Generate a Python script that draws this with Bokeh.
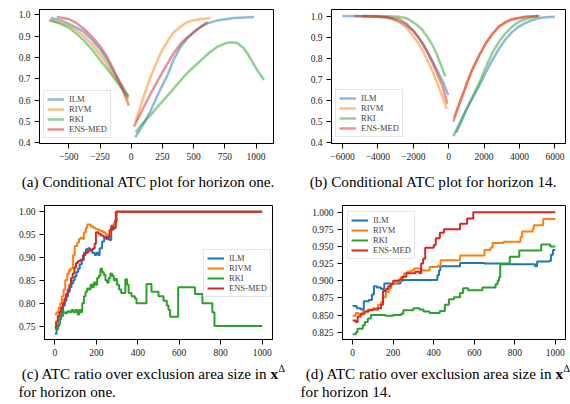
from bokeh.plotting import figure
from bokeh.layouts import column, row
from bokeh.models import Label, Legend, LegendItem, FixedTicker, Range1d
from bokeh.embed import file_html
from bokeh.resources import INLINE

# ---------------- data ----------------
series_names = ["ILM", "RIVM", "RKI", "ENS-MED"]
series_colors = ["#1f77b4", "#ff7f0e", "#2ca02c", "#d62728"]

# (a) conditional ATC, horizon one: negative and positive branches
a_ilm_neg_x = [-645, -560, -500, -440, -380, -310, -246, -190, -139, -80, -24]
a_ilm_neg_y = [0.985, 0.973, 0.958, 0.940, 0.920, 0.880, 0.835, 0.785, 0.730, 0.675, 0.620]
a_rivm_neg_x = [-650, -575, -500, -440, -380, -310, -246, -190, -139, -80, -22]
a_rivm_neg_y = [0.975, 0.963, 0.950, 0.927, 0.900, 0.858, 0.810, 0.765, 0.715, 0.660, 0.605]
a_rki_neg_x = [-660, -575, -500, -440, -380, -310, -246, -190, -139, -80, -24]
a_rki_neg_y = [0.975, 0.960, 0.940, 0.912, 0.880, 0.835, 0.785, 0.745, 0.705, 0.660, 0.615]
a_ens_neg_x = [-597, -500, -440, -380, -310, -246, -190, -139, -80, -19]
a_ens_neg_y = [0.990, 0.980, 0.962, 0.935, 0.895, 0.850, 0.800, 0.740, 0.665, 0.575]

a_ilm_pos_x = [32, 90, 155, 220, 289, 340, 396, 450, 503, 560, 610, 700, 824, 984]
a_ilm_pos_y = [0.426, 0.480, 0.550, 0.635, 0.715, 0.790, 0.850, 0.890, 0.920, 0.945, 0.960, 0.975, 0.985, 0.990]
a_rivm_pos_x = [35, 90, 155, 235, 290, 342, 400, 449, 500, 556, 636]
a_rivm_pos_y = [0.500, 0.600, 0.710, 0.820, 0.875, 0.920, 0.947, 0.965, 0.975, 0.980, 0.985]
a_rki_pos_x = [35, 90, 155, 220, 289, 355, 422, 490, 556, 620, 690, 760, 800, 850, 900, 930, 970, 1010, 1064]
a_rki_pos_y = [0.450, 0.490, 0.530, 0.575, 0.620, 0.665, 0.710, 0.750, 0.785, 0.820, 0.850, 0.868, 0.872,
               0.868, 0.845, 0.820, 0.780, 0.740, 0.695]
a_ens_pos_x = [21, 90, 155, 220, 289, 340, 396, 450, 503, 560, 610]
a_ens_pos_y = [0.476, 0.555, 0.630, 0.700, 0.770, 0.820, 0.865, 0.895, 0.920, 0.945, 0.965]

# (b) conditional ATC, horizon 14
b_ilm_neg_x = [-6000, -5000, -4000, -3500, -3000, -2500, -2000, -1500, -1000, -600, -300, -30]
b_ilm_neg_y = [1.000, 0.999, 0.997, 0.993, 0.982, 0.962, 0.930, 0.875, 0.800, 0.735, 0.685, 0.625]
b_rivm_neg_x = [-4800, -3800, -3300, -2800, -2400, -2050, -1750, -1485, -1200, -920, -640, -357, -110]
b_rivm_neg_y = [1.000, 0.997, 0.990, 0.973, 0.945, 0.910, 0.875, 0.840, 0.790, 0.740, 0.680, 0.620, 0.560]
b_rki_neg_x = [-4900, -3800, -2800, -2400, -2050, -1750, -1485, -1200, -920, -700, -545, -350, -200]
b_rki_neg_y = [1.000, 1.000, 0.997, 0.990, 0.973, 0.955, 0.934, 0.900, 0.863, 0.825, 0.790, 0.750, 0.714]
b_ens_neg_x = [-5340, -4500, -3555, -2800, -2400, -2050, -1750, -1485, -1200, -920, -640, -357, -75]
b_ens_neg_y = [1.000, 0.999, 0.995, 0.985, 0.965, 0.935, 0.905, 0.870, 0.830, 0.780, 0.725, 0.670, 0.585]

b_ilm_pos_x = [263, 600, 960, 1335, 1710, 2087, 2460, 2840, 3215, 3590, 3970, 4345, 4720, 5100, 5470, 6000]
b_ilm_pos_y = [0.430, 0.490, 0.550, 0.610, 0.667, 0.730, 0.790, 0.845, 0.890, 0.925, 0.950, 0.968, 0.980,
               0.990, 0.994, 0.997]
b_rivm_pos_x = [300, 771, 1335, 2087, 2840, 3590, 4345, 5190]
b_rivm_pos_y = [0.518, 0.625, 0.750, 0.870, 0.950, 0.985, 0.997, 1.000]
b_rki_pos_x = [430, 700, 960, 1335, 1710, 2087, 2460, 2840, 3215, 3590, 3970, 4345, 4720, 5095]
b_rki_pos_y = [0.447, 0.495, 0.550, 0.615, 0.680, 0.755, 0.825, 0.878, 0.918, 0.950, 0.973, 0.986, 0.994, 1.000]
b_ens_pos_x = [263, 500, 771, 1050, 1335, 1700, 2087, 2450, 2840, 3200, 3590, 4345, 5040]
b_ens_pos_y = [0.500, 0.560, 0.620, 0.685, 0.745, 0.810, 0.870, 0.915, 0.950, 0.972, 0.985, 0.997, 1.000]

# (c) ATC ratio over exclusion area size, horizon one
c_ilm_x = [0, 8, 16, 24, 32, 40, 48, 56, 64, 72, 80, 88, 96, 104, 112, 120, 130, 140, 150, 160, 170, 180,
           192, 200, 208, 216, 228, 238, 248, 256, 262, 272, 280, 290, 298, 1000]
c_ilm_y = [0.733, 0.745, 0.755, 0.770, 0.780, 0.795, 0.805, 0.815, 0.825, 0.835, 0.843, 0.850, 0.858, 0.868,
           0.875, 0.885, 0.895, 0.910, 0.918, 0.920, 0.915, 0.910, 0.905, 0.910, 0.905, 0.920, 0.935, 0.945,
           0.940, 0.945, 0.938, 0.960, 0.970, 0.980, 1.000, 1.000]
c_rivm_x = [0, 8, 18, 26, 34, 42, 50, 60, 68, 76, 88, 96, 108, 116, 124, 134, 140, 150, 156, 172, 184, 196,
            208, 220, 232, 244, 256, 266, 274, 284, 296, 1000]
c_rivm_y = [0.775, 0.780, 0.790, 0.800, 0.815, 0.830, 0.850, 0.865, 0.872, 0.876, 0.905, 0.925, 0.932, 0.940,
            0.943, 0.940, 0.955, 0.965, 0.972, 0.968, 0.965, 0.962, 0.960, 0.958, 0.955, 0.950, 0.945, 0.960,
            0.970, 0.975, 1.000, 1.000]
c_rki_x = [0, 8, 14, 22, 30, 40, 50, 60, 70, 80, 90, 100, 110, 118, 126, 132, 140, 148, 156, 164, 172, 180,
           188, 196, 204, 212, 220, 228, 236, 244, 252, 260, 268, 276, 284, 292, 300, 310, 320, 340, 348, 356,
           370, 386, 394, 442, 466, 500, 524, 540, 548, 556, 595, 676, 712, 760, 770, 1000]
c_rki_y = [0.745, 0.742, 0.750, 0.765, 0.772, 0.780, 0.778, 0.782, 0.780, 0.785, 0.780, 0.785, 0.775, 0.785,
           0.780, 0.800, 0.815, 0.825, 0.832, 0.830, 0.840, 0.835, 0.845, 0.840, 0.855, 0.860, 0.875, 0.868,
           0.862, 0.850, 0.845, 0.855, 0.865, 0.860, 0.850, 0.853, 0.840, 0.830, 0.822, 0.852, 0.840, 0.822,
           0.815, 0.810, 0.800, 0.842, 0.825, 0.815, 0.805, 0.795, 0.785, 0.770, 0.835, 0.820, 0.800, 0.780,
           0.750, 0.750]
c_ens_x = [0, 6, 14, 22, 30, 38, 46, 54, 62, 70, 78, 86, 94, 102, 112, 124, 136, 148, 160, 172, 184, 192,
           198, 210, 222, 234, 246, 256, 264, 272, 280, 288, 294, 1000]
c_ens_y = [0.748, 0.760, 0.772, 0.780, 0.790, 0.800, 0.810, 0.820, 0.830, 0.840, 0.855, 0.865, 0.878, 0.888,
           0.892, 0.895, 0.905, 0.910, 0.915, 0.917, 0.920, 0.930, 0.955, 0.952, 0.948, 0.945, 0.943, 0.945,
           0.960, 0.968, 0.962, 0.965, 1.000, 1.000]

# (d) ATC ratio over exclusion area size, horizon 14
d_ilm_x = [0, 20, 40, 55, 80, 95, 105, 120, 140, 156, 236, 250, 418, 426, 432, 530, 650, 730, 810, 900,
           910, 970, 978, 988, 1000]
d_ilm_y = [0.863, 0.860, 0.858, 0.870, 0.872, 0.880, 0.892, 0.890, 0.888, 0.896, 0.900, 0.901, 0.908, 0.915,
           0.921, 0.926, 0.925, 0.924, 0.924, 0.921, 0.928, 0.929, 0.938, 0.945, 0.945]
d_rivm_x = [0, 15, 30, 50, 75, 100, 125, 140, 148, 164, 180, 190, 215, 238, 254, 270, 287, 303, 336, 344,
            380, 420, 434, 530, 650, 680, 690, 745, 828, 836, 888, 893, 940, 1000]
d_rivm_y = [0.849, 0.853, 0.851, 0.855, 0.858, 0.860, 0.865, 0.869, 0.876, 0.884, 0.889, 0.896, 0.900, 0.906,
            0.911, 0.913, 0.915, 0.918, 0.916, 0.915, 0.920, 0.922, 0.930, 0.937, 0.945, 0.948, 0.955, 0.957,
            0.964, 0.972, 0.975, 0.981, 0.990, 0.990]
d_rki_x = [0, 16, 24, 50, 60, 75, 90, 160, 200, 240, 250, 300, 330, 350, 380, 430, 455, 475, 500, 530, 545,
           570, 640, 705, 715, 722, 728, 770, 775, 822, 930, 975, 1000]
d_rki_y = [0.822, 0.825, 0.830, 0.835, 0.840, 0.845, 0.850, 0.849, 0.850, 0.852, 0.857, 0.860, 0.858, 0.855,
           0.853, 0.856, 0.865, 0.873, 0.876, 0.882, 0.889, 0.886, 0.890, 0.895, 0.900, 0.905, 0.925, 0.926,
           0.935, 0.944, 0.953, 0.950, 0.950]
d_ens_x = [0, 15, 25, 40, 60, 80, 100, 125, 140, 150, 165, 175, 188, 200, 230, 246, 265, 310, 330, 338, 348,
           358, 400, 410, 430, 450, 530, 565, 595, 1000]
d_ens_y = [0.842, 0.840, 0.848, 0.852, 0.855, 0.857, 0.858, 0.860, 0.865, 0.885, 0.888, 0.892, 0.895, 0.900,
           0.902, 0.906, 0.911, 0.913, 0.911, 0.925, 0.932, 0.948, 0.952, 0.962, 0.970, 0.975, 0.983, 0.991,
           1.000, 1.000]

# ticks
a_xticks = [-500, -250, 0, 250, 500, 750, 1000]
a_xlabels = ["\u2212500", "\u2212250", "0", "250", "500", "750", "1000"]
ab_yticks = [0.4, 0.5, 0.6, 0.7, 0.8, 0.9, 1.0]
ab_ylabels = ["0.4", "0.5", "0.6", "0.7", "0.8", "0.9", "1.0"]
b_xticks = [-6000, -4000, -2000, 0, 2000, 4000, 6000]
b_xlabels = ["\u22126000", "\u22124000", "\u22122000", "0", "2000", "4000", "6000"]
cd_xticks = [0, 200, 400, 600, 800, 1000]
cd_xlabels = ["0", "200", "400", "600", "800", "1000"]
c_yticks = [0.75, 0.80, 0.85, 0.90, 0.95, 1.00]
c_ylabels = ["0.75", "0.80", "0.85", "0.90", "0.95", "1.00"]
d_yticks = [0.825, 0.850, 0.875, 0.900, 0.925, 0.950, 0.975, 1.000]
d_ylabels = ["0.825", "0.850", "0.875", "0.900", "0.925", "0.950", "0.975", "1.000"]

caption_a = "(a) Conditional ATC plot for horizon one."
caption_b = "(b) Conditional ATC plot for horizon 14."
caption_c1 = "(c) ATC ratio over exclusion area size in"
caption_c2 = "for horizon one."
caption_d1 = "(d) ATC ratio over exclusion area size in"
caption_d2 = "for horizon 14."

FONT = "Liberation Serif"
TICK_SIZE = "9.5px"
CAP_SIZE = "15.2px"


def make_fig(w, h, xr, yr, bl, br, bt, bb, xt, xl, yt, yl):
    p = figure(width=w, height=h, x_range=Range1d(*xr), y_range=Range1d(*yr),
               output_backend="svg", toolbar_location=None,
               min_border_left=bl, min_border_right=br, min_border_top=bt, min_border_bottom=bb)
    p.xgrid.visible = False
    p.ygrid.visible = False
    p.outline_line_color = "black"
    p.outline_line_width = 1
    p.outline_line_alpha = 1.0
    for ax, ticks, labels in ((p.xaxis[0], xt, xl), (p.yaxis[0], yt, yl)):
        ax.ticker = FixedTicker(ticks=ticks)
        ax.major_label_overrides = {t: s for t, s in zip(ticks, labels)}
        ax.axis_line_color = "black"
        ax.major_tick_out = 5
        ax.major_tick_in = 0
        ax.minor_tick_out = 0
        ax.minor_tick_in = 0
        ax.major_tick_line_color = "black"
        ax.major_label_text_font = FONT
        ax.major_label_text_font_size = TICK_SIZE
        ax.major_label_text_color = "#222222"
        ax.major_label_standoff = 4
    return p


def caption_fig(w, h):
    p = figure(width=w, height=h, x_range=Range1d(0, w), y_range=Range1d(0, h),
               output_backend="svg", toolbar_location=None,
               min_border_left=0, min_border_right=0, min_border_top=0, min_border_bottom=0)
    p.axis.visible = False
    p.xgrid.visible = False
    p.ygrid.visible = False
    p.outline_line_color = None
    return p


def add_legend(p, renderers, loc):
    items = [LegendItem(label=n, renderers=[r]) for n, r in zip(series_names, renderers)]
    lg = Legend(items=items, location=loc, orientation="vertical")
    lg.label_text_font = FONT
    lg.label_text_font_size = "8.5px"
    lg.glyph_width = 17
    lg.glyph_height = 10
    lg.label_height = 10
    lg.label_standoff = 5
    lg.padding = 3
    lg.spacing = 0
    lg.margin = 0
    lg.border_line_color = "#cccccc"
    lg.border_line_width = 1
    lg.background_fill_alpha = 0.8
    p.add_layout(lg)


def caption(p, text, x, y, size=CAP_SIZE, align="left", style="normal"):
    p.add_layout(Label(x=x, y=y, text=text,
                       text_font=FONT, text_font_size=size, text_align=align,
                       text_baseline="middle", text_color="black", text_font_style=style))


# ---------------- (a) ----------------
pa = make_fig(285, 168, (-735, 1140), (0.397, 1.025), 39, 12, 9, 25,
              a_xticks, a_xlabels, ab_yticks, ab_ylabels)
ra = []
for (nx, ny, px_, py_), col in zip(
        [(a_ilm_neg_x, a_ilm_neg_y, a_ilm_pos_x, a_ilm_pos_y),
         (a_rivm_neg_x, a_rivm_neg_y, a_rivm_pos_x, a_rivm_pos_y),
         (a_rki_neg_x, a_rki_neg_y, a_rki_pos_x, a_rki_pos_y),
         (a_ens_neg_x, a_ens_neg_y, a_ens_pos_x, a_ens_pos_y)], series_colors):
    r = pa.line(nx, ny, line_color=col, line_width=2.5, line_alpha=0.5)
    pa.line(px_, py_, line_color=col, line_width=2.5, line_alpha=0.5)
    ra.append(r)
add_legend(pa, ra, (4, 5))

# ---------------- (b) ----------------
pb = make_fig(285, 168, (-6620, 6600), (0.396, 1.031), 46, 5, 9, 25,
              b_xticks, b_xlabels, ab_yticks, ab_ylabels)
rb = []
for (nx, ny, px_, py_), col in zip(
        [(b_ilm_neg_x, b_ilm_neg_y, b_ilm_pos_x, b_ilm_pos_y),
         (b_rivm_neg_x, b_rivm_neg_y, b_rivm_pos_x, b_rivm_pos_y),
         (b_rki_neg_x, b_rki_neg_y, b_rki_pos_x, b_rki_pos_y),
         (b_ens_neg_x, b_ens_neg_y, b_ens_pos_x, b_ens_pos_y)], series_colors):
    r = pb.line(nx, ny, line_color=col, line_width=2.5, line_alpha=0.5)
    pb.line(px_, py_, line_color=col, line_width=2.5, line_alpha=0.5)
    rb.append(r)
add_legend(pb, rb, (4, 6))

# captions row 1
cap_a = caption_fig(285, 28)
caption(cap_a, caption_a, 148, 15, align="center")
cap_b = caption_fig(285, 28)
caption(cap_b, caption_b, 148, 15, align="center")

# ---------------- (c) ----------------
pc = make_fig(285, 166, (-50, 1050), (0.7205, 1.0135), 44, 13, 9, 23,
              cd_xticks, cd_xlabels, c_yticks, c_ylabels)
rc = []
for xs, ys, col in zip([c_ilm_x, c_rivm_x, c_rki_x, c_ens_x],
                       [c_ilm_y, c_rivm_y, c_rki_y, c_ens_y], series_colors):
    rc.append(pc.step(xs, ys, mode="after", line_color=col, line_width=2))
add_legend(pc, rc, (159, 42))

# ---------------- (d) ----------------
pd_ = make_fig(285, 166, (-50, 1050), (0.8143, 1.0098), 57, 5, 9, 23,
               cd_xticks, cd_xlabels, d_yticks, d_ylabels)
rd = []
for xs, ys, col in zip([d_ilm_x, d_rivm_x, d_rki_x, d_ens_x],
                       [d_ilm_y, d_rivm_y, d_rki_y, d_ens_y], series_colors):
    rd.append(pd_.step(xs, ys, mode="after", line_color=col, line_width=2))
add_legend(pd_, rd, (5, 80))

# captions row 2
cap_c = caption_fig(285, 40)
caption(cap_c, caption_c1, 267, 29, align="right")
caption(cap_c, "x", 270, 29, style="bold")
caption(cap_c, "\u0394", 278, 34, size="10px")
caption(cap_c, caption_c2, 18, 11)
cap_d = caption_fig(285, 40)
caption(cap_d, caption_d1, 267, 29, align="right")
caption(cap_d, "x", 270, 29, style="bold")
caption(cap_d, "\u0394", 278, 34, size="10px")
caption(cap_d, caption_d2, 15, 11)

layout = column(row(pa, pb), row(cap_a, cap_b), row(pc, pd_), row(cap_c, cap_d))
open("out.html", "w").write(file_html(layout, INLINE))
